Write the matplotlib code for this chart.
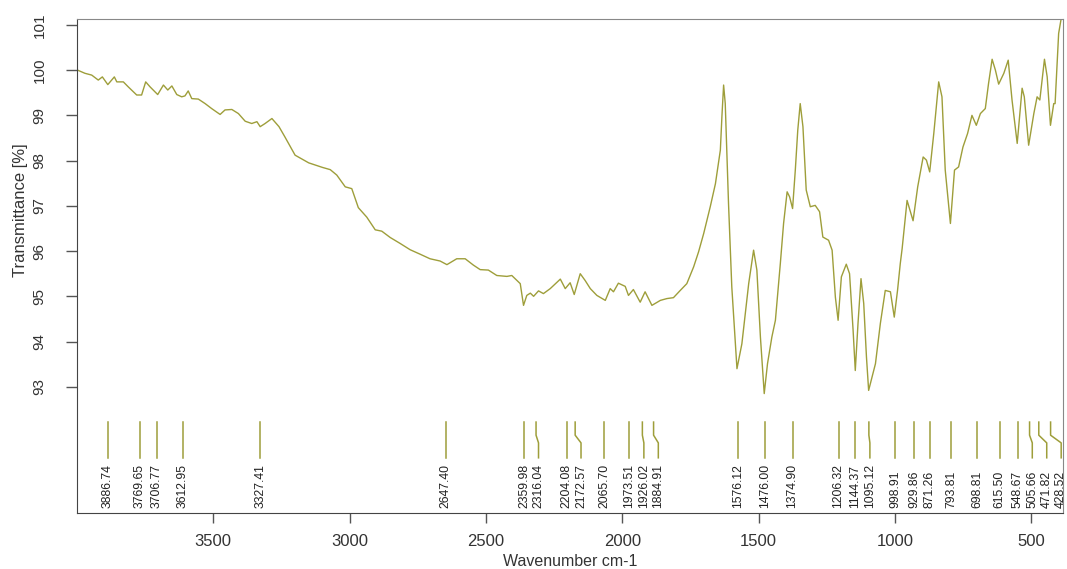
import numpy as np
import matplotlib
matplotlib.use("Agg")
import matplotlib.pyplot as plt

plt.rcParams['font.family'] = ['Liberation Sans', 'DejaVu Sans']

# spectrum (wavenumber, transmittance %)
wavenumber = [3998, 3971, 3946, 3922, 3907, 3887, 3863, 3854, 3830, 3812, 3781, 3763, 3748,
              3732, 3704, 3683, 3667, 3652, 3634, 3616, 3604, 3592, 3579, 3555, 3530, 3506,
              3475, 3457, 3432, 3408, 3383, 3359, 3340, 3328, 3310, 3285, 3259, 3237, 3200,
              3150, 3100, 3071, 3047, 3016, 2992, 2968, 2937, 2906, 2882, 2851, 2815, 2778,
              2741, 2705, 2668, 2643, 2607, 2576, 2546, 2521, 2491, 2460, 2423, 2405, 2386,
              2374, 2362, 2350, 2337, 2325, 2307, 2289, 2264, 2227, 2209, 2191, 2176, 2154,
              2136, 2117, 2093, 2062, 2044, 2032, 2014, 1989, 1977, 1959, 1934, 1916, 1891,
              1860, 1836, 1812, 1787, 1763, 1738, 1720, 1701, 1677, 1658, 1640, 1634, 1628,
              1622, 1610, 1598, 1579, 1561, 1536, 1518, 1506, 1493, 1479, 1467, 1451, 1438,
              1420, 1408, 1395, 1386, 1375, 1365, 1356, 1347, 1337, 1325, 1310, 1292, 1276,
              1264, 1243, 1230, 1218, 1208, 1196, 1178, 1166, 1153, 1145, 1135, 1124, 1114,
              1104, 1096, 1071, 1053, 1035, 1016, 1002, 990, 980, 973, 955, 933, 916, 896,
              884, 872, 857, 839, 827, 815, 796, 781, 766, 750, 733, 717, 701, 686, 668, 656,
              643, 631, 619, 600, 584, 570, 551, 533, 525, 509, 490, 478, 468, 451, 441, 429,
              417, 412, 399, 388]
transmittance = [100.0, 99.93, 99.89, 99.78, 99.85, 99.68, 99.85, 99.74, 99.74, 99.63, 99.45,
                 99.45, 99.74, 99.63, 99.46, 99.67, 99.56, 99.65, 99.46, 99.41, 99.43, 99.54,
                 99.37, 99.36, 99.26, 99.15, 99.02, 99.12, 99.13, 99.04, 98.87, 98.82, 98.86,
                 98.75, 98.82, 98.93, 98.75, 98.52, 98.12, 97.95, 97.85, 97.80, 97.68, 97.42,
                 97.38, 96.96, 96.75, 96.47, 96.44, 96.30, 96.17, 96.03, 95.93, 95.83, 95.78,
                 95.70, 95.83, 95.83, 95.69, 95.59, 95.58, 95.46, 95.44, 95.46, 95.35, 95.28,
                 94.80, 95.02, 95.07, 95.00, 95.12, 95.06, 95.17, 95.38, 95.17, 95.30, 95.04,
                 95.50, 95.35, 95.17, 95.02, 94.91, 95.17, 95.10, 95.29, 95.22, 95.02, 95.15,
                 94.87, 95.10, 94.80, 94.91, 94.95, 94.97, 95.13, 95.28, 95.65, 95.98, 96.39,
                 96.98, 97.49, 98.23, 99.0, 99.67, 99.26, 97.05, 95.21, 93.40, 93.95, 95.28,
                 96.02, 95.58, 94.10, 92.85, 93.51, 94.10, 94.47, 95.72, 96.61, 97.31, 97.20,
                 96.94, 97.79, 98.67, 99.26, 98.75, 97.35, 96.98, 97.01, 96.87, 96.31, 96.24,
                 96.02, 94.98, 94.47, 95.43, 95.71, 95.50, 94.25, 93.36, 94.40, 95.39, 94.84,
                 93.66, 92.92, 93.51, 94.40, 95.13, 95.10, 94.54, 95.13, 95.72, 96.06, 97.12,
                 96.67, 97.42, 98.08, 98.01, 97.75, 98.60, 99.74, 99.41, 97.79, 96.61, 97.79,
                 97.86, 98.30, 98.60, 99.00, 98.78, 99.04, 99.15, 99.71, 100.24, 100.0, 99.69,
                 99.93, 100.22, 99.34, 98.38, 99.60, 99.41, 98.34, 99.04, 99.41, 99.34, 100.24,
                 99.85, 98.78, 99.26, 99.26, 100.81, 101.2]

peaks = [3886.74, 3769.65, 3706.77, 3612.95, 3327.41, 2647.40, 2359.98, 2316.04, 2204.08,
         2172.57, 2065.70, 1973.51, 1926.02, 1884.91, 1576.12, 1476.00, 1374.90, 1206.32,
         1144.37, 1095.12, 998.91, 929.86, 871.26, 793.81, 698.81, 615.50, 548.67, 505.66,
         471.82, 428.52]

color = '#9e9e3a'

fig = plt.figure(figsize=(10.67, 5.69), dpi=100)
ax = fig.add_axes([77 / 1067, 1 - 513 / 569, (1063 - 77) / 1067, (513 - 19) / 569])

ax.plot(wavenumber, transmittance, color=color, lw=1.0)

# peak markers, labels pushed apart where they would collide
min_gap = 53
label_x = []
for p in peaks:
    if label_x and label_x[-1] - p < min_gap:
        label_x.append(label_x[-1] - min_gap)
    else:
        label_x.append(p)

for p, lx in zip(peaks, label_x):
    ax.plot([p, p, lx, lx], [92.22, 91.93, 91.76, 91.43], color=color, lw=1.1)
    ax.text(lx, 90.32, f"{p:.2f}", rotation=90, ha='center', va='bottom',
            fontsize=8.8, color='#222222', clip_on=True)

ax.set_xlim(4000, 383)
ax.set_ylim(90.21, 101.13)
ax.set_xticks([3500, 3000, 2500, 2000, 1500, 1000, 500])
ax.set_yticks(range(93, 102))

ax.tick_params(axis='x', length=7, width=1, color='#555555', pad=8,
               labelsize=12, labelcolor='#333333')
ax.tick_params(axis='y', length=8, width=1, color='#555555', pad=14,
               labelsize=11, labelcolor='#333333', labelrotation=90)
for lab in ax.get_yticklabels():
    lab.set_va('center')

for side in ['left', 'bottom']:
    ax.spines[side].set_color('#444444')
for side in ['top', 'right']:
    ax.spines[side].set_color('#888888')

ax.set_xlabel('Wavenumber cm-1', fontsize=11.5, color='#333333')
ax.set_ylabel('Transmittance [%]', fontsize=12, color='#333333')
ax.xaxis.set_label_coords(0.5, -0.083)
ax.yaxis.set_label_coords(-0.050, 0.613)

fig.savefig('out.png', dpi=100)
